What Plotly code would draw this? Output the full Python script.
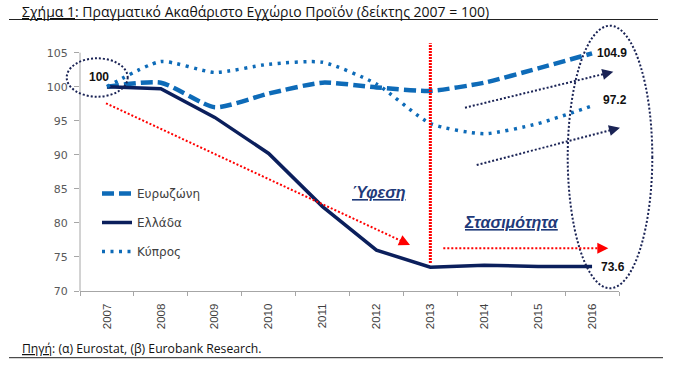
import plotly.graph_objects as go

# ---- data ----
years = ['2007', '2008', '2009', '2010', '2011', '2012', '2013', '2014', '2015', '2016']
eurozone = [100.0, 100.6, 97.0, 99.0, 100.6, 99.9, 99.4, 100.6, 102.7, 104.9]
greece = [100.0, 99.7, 95.5, 90.2, 82.4, 76.0, 73.5, 73.8, 73.6, 73.6]
cyprus = [100.0, 103.7, 102.1, 103.3, 103.6, 100.4, 94.6, 93.1, 94.6, 97.2]
series_names = ['Ευρωζώνη', 'Ελλάδα', 'Κύπρος']
end_labels = ['104.9', '97.2', '73.6']
start_label = '100'
y_ticks = [70, 75, 80, 85, 90, 95, 100, 105]

title_text = '<u>Σχήμα 1</u>: Πραγματικό Ακαθάριστο Εγχώριο Προϊόν (δείκτης 2007 = 100)'
source_text = '<u>Πηγή</u>: (α) Eurostat, (β) Eurobank Research.'

# ---- layout geometry (pixels of the 680x369 canvas) ----
W, H = 680, 369
ML, MR, MT, MB = 80, 61, 42, 78
PW, PH = W - ML - MR, H - MT - MB


def X(px):
    return (px - ML) / PW


def Y(py):
    return (H - MB - py) / PH


BLUE = '#0E6BB8'
NAVY = '#0B1F5C'
RED = '#FF0000'
DNAVY = '#1A2355'

fig = go.Figure()
fig.add_trace(go.Scatter(x=years, y=eurozone, name=series_names[0], mode='lines',
                         line=dict(color=BLUE, width=4.5, dash='12px,5px', shape='spline', smoothing=0.6),
                         legendgroup='a'))
fig.add_trace(go.Scatter(x=years, y=greece, name=series_names[1], mode='lines',
                         line=dict(color=NAVY, width=3.5),
                         legendgroup='b'))
fig.add_trace(go.Scatter(x=years, y=cyprus, name=series_names[2], mode='lines',
                         line=dict(color=BLUE, width=3.5, dash='3px,5.5px', shape='spline', smoothing=0.6),
                         legendgroup='c'))

shapes = []
annotations = []

# y axis line (only up to 105)
shapes.append(dict(type='line', xref='paper', yref='y', x0=0, x1=0, y0=70, y1=105,
                   line=dict(color='#A6A6A6', width=1)))

# title / source rules
shapes.append(dict(type='line', xref='paper', yref='paper', x0=X(9), x1=X(658), y0=Y(19.5), y1=Y(19.5),
                   line=dict(color='#222222', width=1)))
shapes.append(dict(type='line', xref='paper', yref='paper', x0=X(9), x1=X(663), y0=Y(357.7), y1=Y(357.7),
                   line=dict(color='#222222', width=1)))

# ellipses
shapes.append(dict(type='circle', xref='paper', yref='paper', x0=X(66.7), x1=X(127.7), y0=Y(96.7), y1=Y(58.3),
                   line=dict(color=DNAVY, width=2, dash='2px,2px')))
shapes.append(dict(type='circle', xref='paper', yref='paper', x0=X(567.7), x1=X(652.3), y0=Y(288.3), y1=Y(25.7),
                   line=dict(color=DNAVY, width=2, dash='2px,2px')))

# red vertical line at 2013
shapes.append(dict(type='line', xref='x', yref='paper', x0=6, x1=6, y0=Y(263), y1=Y(43.3),
                   line=dict(color=RED, width=3, dash='2px,1px')))


def arrow(p0, p1, color, width, head_w, dash):
    (x0, y0), (x1, y1) = p0, p1
    dx, dy = x1 - x0, y1 - y0
    ln = (dx * dx + dy * dy) ** 0.5
    ux, uy = dx / ln, dy / ln
    sx, sy = x1 - 7 * ux, y1 - 7 * uy
    shapes.append(dict(type='line', xref='paper', yref='paper', x0=X(x0), y0=Y(y0), x1=X(sx), y1=Y(sy),
                       line=dict(color=color, width=width, dash=dash)))
    annotations.append(dict(xref='paper', yref='paper', x=X(x1), y=Y(y1), ax=-6 * ux, ay=-6 * uy,
                            text='', showarrow=True, arrowhead=2, arrowsize=head_w, arrowwidth=2,
                            arrowcolor=color))


arrow((106, 103.3), (410, 245), RED, 2, 1.1, '2px,2px')
arrow((443.3, 248.3), (608.3, 248.3), RED, 2, 1.1, '2px,2px')
arrow((465, 107.7), (613.3, 71.7), DNAVY, 2, 1.1, '2px,2px')
arrow((476.7, 165), (620, 127.7), DNAVY, 2, 1.1, '2px,2px')

lbl_font = dict(family='Liberation Sans, Arial', size=12, color='#111111')
annotations.append(dict(xref='x', yref='y', x=-0.15, y=101.5, text='<b>%s</b>' % start_label,
                        showarrow=False, font=lbl_font))
annotations.append(dict(xref='x', yref='y', x=9.37, y=104.9, text='<b>%s</b>' % end_labels[0],
                        showarrow=False, font=lbl_font))
annotations.append(dict(xref='x', yref='y', x=9.42, y=98.05, text='<b>%s</b>' % end_labels[1],
                        showarrow=False, font=lbl_font))
annotations.append(dict(xref='x', yref='y', x=9.39, y=73.5, text='<b>%s</b>' % end_labels[2],
                        showarrow=False, font=lbl_font))

phase_font = dict(family='Liberation Sans, Arial', size=16, color='#1F3A7A')
annotations.append(dict(xref='x', yref='y', x=5.05, y=84.4, text='<b><i><u>Ύφεση</u></i></b>',
                        showarrow=False, font=phase_font))
annotations.append(dict(xref='x', yref='y', x=7.5, y=80.0, text='<b><i><u>Στασιμότητα</u></i></b>',
                        showarrow=False, font=phase_font))

annotations.append(dict(xref='paper', yref='paper', x=X(20), y=Y(11.7), xanchor='left', yanchor='middle',
                        text=title_text, showarrow=False,
                        font=dict(family='Open Sans', size=14, color='#111111')))
annotations.append(dict(xref='paper', yref='paper', x=X(20), y=Y(348), xanchor='left', yanchor='middle',
                        text=source_text, showarrow=False,
                        font=dict(family='Open Sans', size=12.2, color='#111111')))

fig.update_layout(
    width=W, height=H,
    margin=dict(l=ML, r=MR, t=MT, b=MB),
    paper_bgcolor='white', plot_bgcolor='white',
    shapes=shapes, annotations=annotations,
    showlegend=True,
    legend=dict(x=X(97), y=Y(179), xanchor='left', yanchor='top', bgcolor='rgba(0,0,0,0)',
                tracegroupgap=10, font=dict(family='DejaVu Sans', size=12, color='#404040')),
    xaxis=dict(type='category', range=[-0.5, 9.5], tickson='boundaries', ticks='outside', ticklen=4,
               tickcolor='#A6A6A6', showline=True, linecolor='#A6A6A6', linewidth=1, showgrid=False,
               tickangle=-90, ticklabelstandoff=7,
               tickfont=dict(family='Liberation Sans', size=11.5, color='#404040')),
    yaxis=dict(range=[70, 70 + PH / (238.3 / 35)], tickvals=y_ticks, ticks='outside', ticklen=5,
               tickcolor='#A6A6A6', showline=False, showgrid=False, zeroline=False,
               ticklabelstandoff=4,
               tickfont=dict(family='DejaVu Sans', size=11, color='#595959')),
)

fig.write_html('out.html', config={'displayModeBar': False},
               post_script="document.body.style.margin='0';document.body.style.padding='0';")
